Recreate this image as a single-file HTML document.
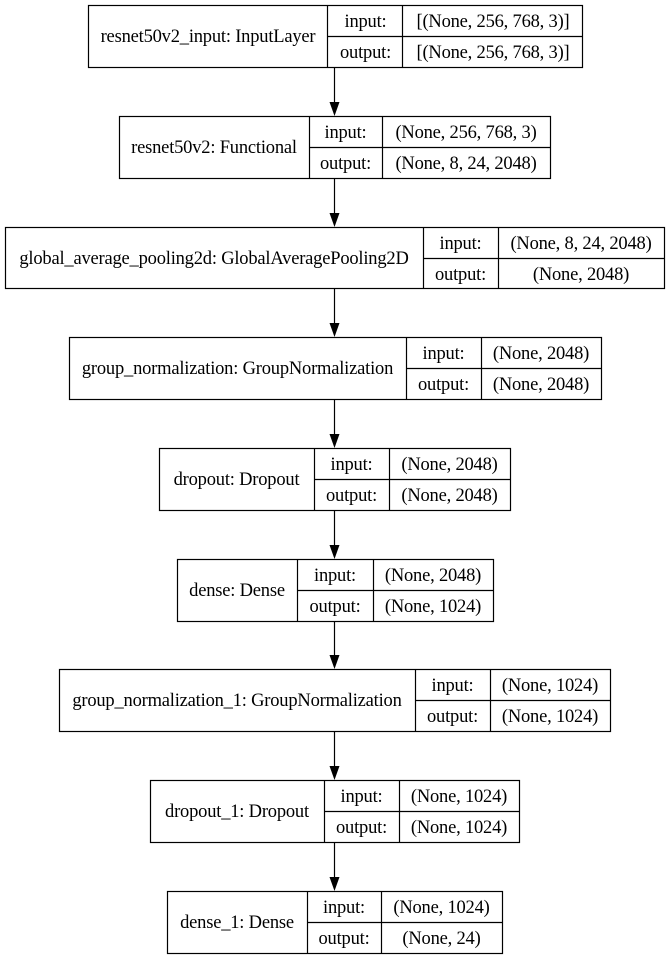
<!DOCTYPE html>
<html><head><meta charset="utf-8"><style>
html,body{margin:0;padding:0;background:#fff;}
body{position:relative;width:669px;height:959px;overflow:hidden;font-family:"Liberation Serif","Times New Roman",Times,"DejaVu Serif",serif;font-size:18.5px;color:#000;}
svg{display:block;position:absolute;left:0;top:0;}
.c{position:absolute;display:flex;align-items:center;justify-content:center;white-space:nowrap;line-height:1;letter-spacing:-0.2px;box-sizing:border-box;padding-top:3px;}
</style></head><body>
<svg width="669" height="959" viewBox="0 0 669 959" xmlns="http://www.w3.org/2000/svg">
<g fill="none" stroke="#000" stroke-width="1.2">
<rect x="88.5" y="5.5" width="494" height="62"/><line x1="327.5" y1="5.5" x2="327.5" y2="67.5"/><line x1="402.5" y1="5.5" x2="402.5" y2="67.5"/><line x1="327.5" y1="36.5" x2="582.5" y2="36.5"/>
<rect x="119.5" y="116.5" width="431" height="62"/><line x1="309.5" y1="116.5" x2="309.5" y2="178.5"/><line x1="382.5" y1="116.5" x2="382.5" y2="178.5"/><line x1="309.5" y1="147.5" x2="550.5" y2="147.5"/>
<rect x="5.5" y="227.5" width="659" height="61"/><line x1="423.5" y1="227.5" x2="423.5" y2="288.5"/><line x1="498.5" y1="227.5" x2="498.5" y2="288.5"/><line x1="423.5" y1="258.5" x2="664.5" y2="258.5"/>
<rect x="69.5" y="337.5" width="532" height="62"/><line x1="406.5" y1="337.5" x2="406.5" y2="399.5"/><line x1="481.5" y1="337.5" x2="481.5" y2="399.5"/><line x1="406.5" y1="368.5" x2="601.5" y2="368.5"/>
<rect x="159.5" y="448.5" width="351" height="62"/><line x1="314.5" y1="448.5" x2="314.5" y2="510.5"/><line x1="389.5" y1="448.5" x2="389.5" y2="510.5"/><line x1="314.5" y1="479.5" x2="510.5" y2="479.5"/>
<rect x="177.5" y="559.5" width="316" height="62"/><line x1="297.5" y1="559.5" x2="297.5" y2="621.5"/><line x1="373.5" y1="559.5" x2="373.5" y2="621.5"/><line x1="297.5" y1="590.5" x2="493.5" y2="590.5"/>
<rect x="59.5" y="669.5" width="551" height="62"/><line x1="415.5" y1="669.5" x2="415.5" y2="731.5"/><line x1="490.5" y1="669.5" x2="490.5" y2="731.5"/><line x1="415.5" y1="700.5" x2="610.5" y2="700.5"/>
<rect x="150.5" y="780.5" width="369" height="62"/><line x1="324.5" y1="780.5" x2="324.5" y2="842.5"/><line x1="399.5" y1="780.5" x2="399.5" y2="842.5"/><line x1="324.5" y1="811.5" x2="519.5" y2="811.5"/>
<rect x="167.5" y="891.5" width="335" height="62"/><line x1="307.5" y1="891.5" x2="307.5" y2="953.5"/><line x1="381.5" y1="891.5" x2="381.5" y2="953.5"/><line x1="307.5" y1="922.5" x2="502.5" y2="922.5"/>
<line x1="334.5" y1="68" x2="334.5" y2="103"/>
<line x1="334.5" y1="179" x2="334.5" y2="214"/>
<line x1="334.5" y1="289" x2="334.5" y2="324"/>
<line x1="334.5" y1="400" x2="334.5" y2="435"/>
<line x1="334.5" y1="511" x2="334.5" y2="546"/>
<line x1="334.5" y1="622" x2="334.5" y2="656"/>
<line x1="334.5" y1="732" x2="334.5" y2="767"/>
<line x1="334.5" y1="843" x2="334.5" y2="878"/>
</g>
<g fill="#000">
<polygon points="329.5,102 339.5,102 334.5,116"/>
<polygon points="329.5,213 339.5,213 334.5,227"/>
<polygon points="329.5,323 339.5,323 334.5,337"/>
<polygon points="329.5,434 339.5,434 334.5,448"/>
<polygon points="329.5,545 339.5,545 334.5,559"/>
<polygon points="329.5,655 339.5,655 334.5,669"/>
<polygon points="329.5,766 339.5,766 334.5,780"/>
<polygon points="329.5,877 339.5,877 334.5,891"/>
</g>
</svg>

<div class="c" style="left:88px;top:5px;width:240px;height:62px">resnet50v2_input: InputLayer</div>
<div class="c" style="left:328px;top:5px;width:75px;height:31px">input:</div>
<div class="c" style="left:328px;top:36px;width:75px;height:31px">output:</div>
<div class="c" style="left:403px;top:5px;width:180px;height:31px">[(None, 256, 768, 3)]</div>
<div class="c" style="left:403px;top:36px;width:180px;height:31px">[(None, 256, 768, 3)]</div>

<div class="c" style="left:119px;top:116px;width:190px;height:62px">resnet50v2: Functional</div>
<div class="c" style="left:309px;top:116px;width:73px;height:31px">input:</div>
<div class="c" style="left:309px;top:147px;width:73px;height:31px">output:</div>
<div class="c" style="left:382px;top:116px;width:168px;height:31px">(None, 256, 768, 3)</div>
<div class="c" style="left:382px;top:147px;width:168px;height:31px">(None, 8, 24, 2048)</div>

<div class="c" style="left:5px;top:227px;width:418px;height:61px">global_average_pooling2d: GlobalAveragePooling2D</div>
<div class="c" style="left:423px;top:227px;width:75px;height:31px">input:</div>
<div class="c" style="left:423px;top:258px;width:75px;height:31px">output:</div>
<div class="c" style="left:498px;top:227px;width:166px;height:31px">(None, 8, 24, 2048)</div>
<div class="c" style="left:498px;top:258px;width:166px;height:31px">(None, 2048)</div>

<div class="c" style="left:69px;top:337px;width:337px;height:62px">group_normalization: GroupNormalization</div>
<div class="c" style="left:406px;top:337px;width:75px;height:31px">input:</div>
<div class="c" style="left:406px;top:368px;width:75px;height:31px">output:</div>
<div class="c" style="left:481px;top:337px;width:120px;height:31px">(None, 2048)</div>
<div class="c" style="left:481px;top:368px;width:120px;height:31px">(None, 2048)</div>

<div class="c" style="left:159px;top:448px;width:155px;height:62px">dropout: Dropout</div>
<div class="c" style="left:314px;top:448px;width:75px;height:31px">input:</div>
<div class="c" style="left:314px;top:479px;width:75px;height:31px">output:</div>
<div class="c" style="left:389px;top:448px;width:121px;height:31px">(None, 2048)</div>
<div class="c" style="left:389px;top:479px;width:121px;height:31px">(None, 2048)</div>

<div class="c" style="left:177px;top:559px;width:120px;height:62px">dense: Dense</div>
<div class="c" style="left:297px;top:559px;width:76px;height:31px">input:</div>
<div class="c" style="left:297px;top:590px;width:76px;height:31px">output:</div>
<div class="c" style="left:373px;top:559px;width:120px;height:31px">(None, 2048)</div>
<div class="c" style="left:373px;top:590px;width:120px;height:31px">(None, 1024)</div>

<div class="c" style="left:59px;top:669px;width:356px;height:62px">group_normalization_1: GroupNormalization</div>
<div class="c" style="left:415px;top:669px;width:75px;height:31px">input:</div>
<div class="c" style="left:415px;top:700px;width:75px;height:31px">output:</div>
<div class="c" style="left:490px;top:669px;width:120px;height:31px">(None, 1024)</div>
<div class="c" style="left:490px;top:700px;width:120px;height:31px">(None, 1024)</div>

<div class="c" style="left:150px;top:780px;width:174px;height:62px">dropout_1: Dropout</div>
<div class="c" style="left:324px;top:780px;width:75px;height:31px">input:</div>
<div class="c" style="left:324px;top:811px;width:75px;height:31px">output:</div>
<div class="c" style="left:399px;top:780px;width:120px;height:31px">(None, 1024)</div>
<div class="c" style="left:399px;top:811px;width:120px;height:31px">(None, 1024)</div>

<div class="c" style="left:167px;top:891px;width:140px;height:62px">dense_1: Dense</div>
<div class="c" style="left:307px;top:891px;width:74px;height:31px">input:</div>
<div class="c" style="left:307px;top:922px;width:74px;height:31px">output:</div>
<div class="c" style="left:381px;top:891px;width:121px;height:31px">(None, 1024)</div>
<div class="c" style="left:381px;top:922px;width:121px;height:31px">(None, 24)</div>
</body></html>
